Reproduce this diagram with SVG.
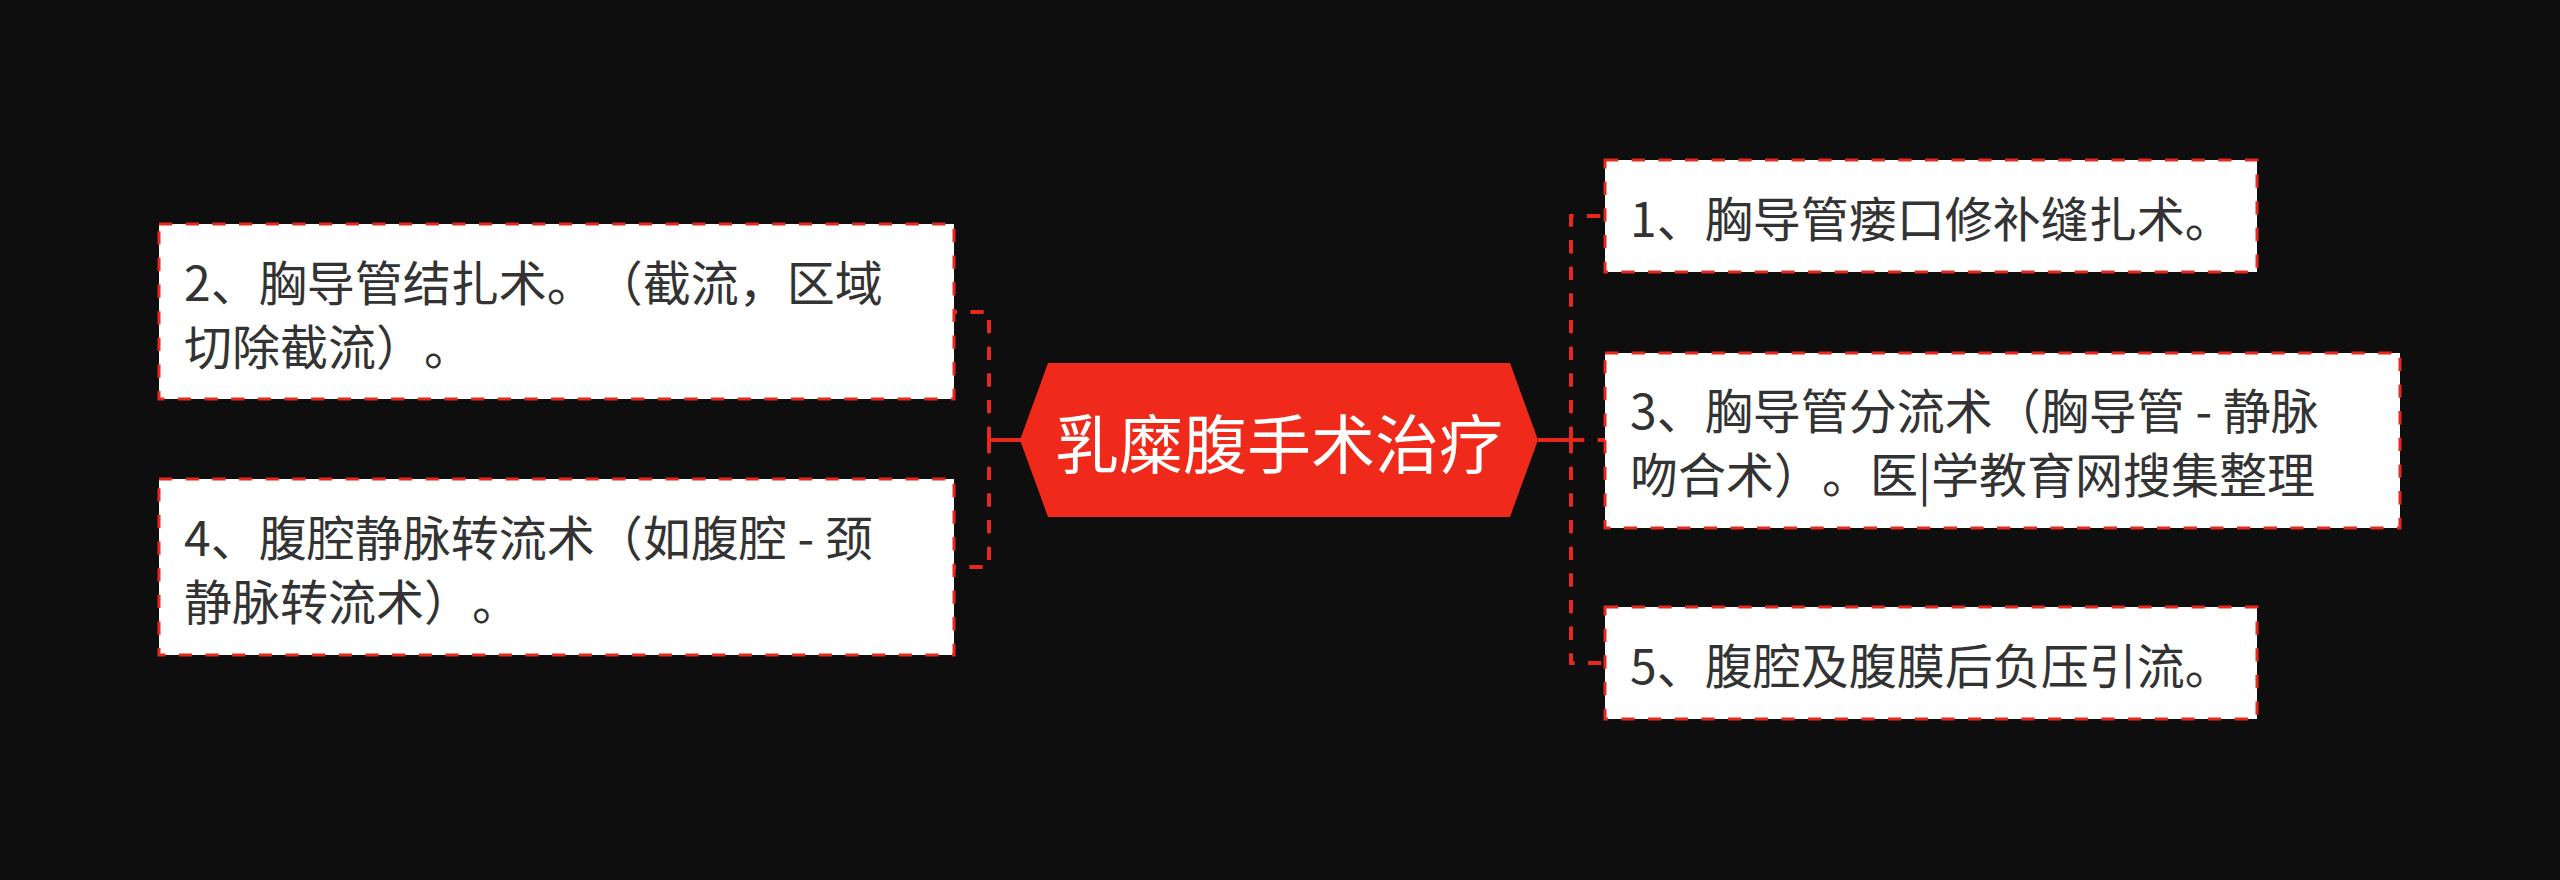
<svg xmlns="http://www.w3.org/2000/svg" width="2560" height="880" viewBox="0 0 2560 880">
  <style>
    .bg { fill: #0e0e0e; }
    .box { fill: #ffffff; stroke: #e8281c; stroke-width: 3; stroke-dasharray: 13.33 13.33; }
    .txt { font-family: "Noto Sans CJK SC", "Noto Sans", sans-serif; font-size: 48px; fill: #333333; dominant-baseline: central; text-spacing-trim: space-all; font-feature-settings: "chws" 0, "halt" 0, "palt" 0; }
    .link { fill: none; stroke: #e8281c; stroke-width: 4; stroke-dasharray: 13.33 13.33; }
    .solid { fill: none; stroke: #e8281c; stroke-width: 4; }
    .center { fill: #f02a1a; }
    .ctxt { font-family: "Noto Sans CJK SC", "Noto Sans", sans-serif; font-size: 64px; fill: #ffffff; dominant-baseline: central; text-anchor: middle; }
  </style>
  <rect class="bg" x="0" y="0" width="2560" height="880"/>
  <g id="connectors">
    <path class="solid" d="M 1022 440 H 989"/>
    <path class="solid" d="M 1538 440 H 1571"/>
    <path class="link" d="M 989 440 V 312 H 954"/>
    <path class="link" d="M 989 440 V 567 H 954"/>
    <path class="link" d="M 1571 440 V 216 H 1605"/>
    <path class="link" d="M 1571 440 H 1605"/>
    <path class="link" d="M 1571 440 V 663 H 1605"/>
  </g>
  <g id="root">
    <polygon class="center" points="1020,440 1048,363 1510,363 1538,440 1510,517 1048,517"/>
    <text class="ctxt" x="1279" y="440">乳糜腹手术治疗</text>
  </g>
  <g id="node2">
    <rect class="box" x="159" y="224" width="795" height="175"/>
    <text class="txt" x="184" y="280">2、胸导管结扎术。（截流，区域</text>
    <text class="txt" x="184" y="344">切除截流）。</text>
  </g>
  <g id="node4">
    <rect class="box" x="159" y="479" width="795" height="176"/>
    <text class="txt" x="184" y="535">4、腹腔静脉转流术（如腹腔 - 颈</text>
    <text class="txt" x="184" y="599">静脉转流术）。</text>
  </g>
  <g id="node1">
    <rect class="box" x="1605" y="160" width="652" height="112"/>
    <text class="txt" x="1630" y="216">1、胸导管瘘口修补缝扎术。</text>
  </g>
  <g id="node3">
    <rect class="box" x="1605" y="353" width="795" height="175"/>
    <text class="txt" x="1630" y="408">3、胸导管分流术（胸导管 - 静脉</text>
    <text class="txt" x="1630" y="472">吻合术）。医|学教育网搜集整理</text>
  </g>
  <g id="node5">
    <rect class="box" x="1605" y="607" width="652" height="112"/>
    <text class="txt" x="1630" y="663">5、腹腔及腹膜后负压引流。</text>
  </g>
</svg>
